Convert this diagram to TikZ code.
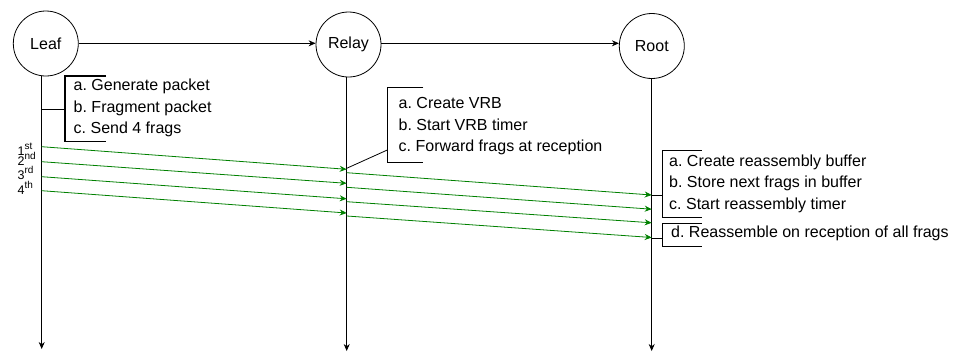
\documentclass[tikz,border=0pt]{standalone}
\usepackage{fontspec}
\setmainfont{Liberation Sans}
\usetikzlibrary{arrows.meta}
\definecolor{fraggreen}{HTML}{008000}
\newcommand{\ordsup}[1]{\raisebox{5.5pt}{\fontsize{10}{10}\selectfont #1}}
\begin{document}
\begin{tikzpicture}[x=1pt,y=-1pt,
  actor/.style={draw,circle,minimum size=65pt,inner sep=0pt,line width=0.8pt,font=\fontsize{16}{19}\selectfont},
  msg/.style={draw,line width=0.8pt,-{Stealth[length=7pt,width=6pt]}},
  life/.style={draw,line width=0.8pt,-{Stealth[length=7pt,width=6pt]}},
  frag/.style={draw=fraggreen,line width=0.8pt,-{Stealth[length=7pt,width=6pt]},fraggreen},
  bracket/.style={draw,line width=1.3pt},
  link/.style={draw,line width=0.8pt},
  notetext/.style={anchor=west,inner sep=0pt,align=left,font=\fontsize{16}{21.5}\selectfont\frenchspacing},
  ord/.style={anchor=base west,inner sep=0pt,font=\fontsize{12.5}{12}\selectfont}]
\useasboundingbox (0,0) rectangle (958,354);

% actors
\node[actor] (leaf)  at (45.8,43.5)  {Leaf};
\node[actor] (relay) at (348.5,44.5) {Relay};
\node[actor] (root)  at (651.8,46)   {Root};

\draw[msg] (leaf.east |- 0,43.3) -- (relay.west |- 0,43.3);
\draw[msg] (relay.east |- 0,43.3) -- (root.west |- 0,43.3);

% lifelines
\coordinate (leafTop)  at (41.7,75.5);
\coordinate (leafBot)  at (41.7,349);
\coordinate (relayTop) at (346.7,77);
\coordinate (relayBot) at (346.7,351);
\coordinate (rootTop)  at (651.7,78.5);
\coordinate (rootBot)  at (651.7,351);
\draw[life] (leafTop) -- (leafBot);
\draw[life] (relayTop) -- (relayBot);
\draw[life] (rootTop) -- (rootBot);

% leaf note
\draw[bracket] (106,76) -- (65,76) -- (65,141.7) -- (106,141.7);
\coordinate (leafN) at (41.7,109.3);
\coordinate (leafB) at (65,109.3);
\draw[link] (leafN) -- (leafB);
\node[notetext] (leaftxt) at (73.5,108) {a. Generate packet\\b. Fragment packet\\c. Send 4 frags};

% relay note
\draw[bracket] (423.3,87.3) -- (387.3,87.3) -- (387.3,162.7) -- (423.3,162.7);
\coordinate (relayN) at (346.7,168.3);
\coordinate (relayB) at (387.3,150);
\draw[link] (relayN) -- (relayB);
\node[notetext] (relaytxt) at (398.5,126.5) {a. Create VRB\\b. Start VRB timer\\c. Forward frags at reception};

% root notes
\draw[bracket] (701.7,150.7) -- (662.3,150.7) -- (662.3,217.7) -- (701.7,217.7);
\coordinate (rootN1) at (651.7,195.7);
\coordinate (rootB1) at (662.3,195.7);
\draw[link] (rootN1) -- (rootB1);
\node[notetext] (roottxt1) at (669,183.5) {a. Create reassembly buffer\\b. Store next frags in buffer\\c. Start reassembly timer};

\draw[bracket] (701.7,223.7) -- (662.3,223.7) -- (662.3,246.7) -- (701.7,246.7);
\coordinate (rootN2) at (651.7,238.7);
\coordinate (rootB2) at (662.3,238.7);
\draw[link] (rootN2) -- (rootB2);
\node[notetext] (roottxt2) at (671,233.5) {d. Reassemble on reception of all frags};

% fragment labels
\node[ord] (o1) at (17.5,155)   {1\ordsup{st}};
\node[ord] (o2) at (17.5,165)   {2\ordsup{nd}};
\node[ord] (o3) at (17.5,179.3) {3\ordsup{rd}};
\node[ord] (o4) at (17.5,194)   {4\ordsup{th}};

% fragments leaf -> relay
\coordinate (l1) at (41.7,146.7); \coordinate (r1) at (346.7,169.3);
\coordinate (l2) at (41.7,161.7); \coordinate (r2) at (346.7,183.3);
\coordinate (l3) at (41.7,176.7); \coordinate (r3) at (346.7,198.8);
\coordinate (l4) at (41.7,190.7); \coordinate (r4) at (346.7,213.0);
\draw[frag] (l1) -- (r1);
\draw[frag] (l2) -- (r2);
\draw[frag] (l3) -- (r3);
\draw[frag] (l4) -- (r4);

% fragments relay -> root
\coordinate (s1) at (346.7,172.7); \coordinate (t1) at (651.7,195);
\coordinate (s2) at (346.7,187.3); \coordinate (t2) at (651.7,209.2);
\coordinate (s3) at (346.7,201.7); \coordinate (t3) at (651.7,222.8);
\coordinate (s4) at (346.7,216);   \coordinate (t4) at (651.7,237.5);
\draw[frag] (s1) -- (t1);
\draw[frag] (s2) -- (t2);
\draw[frag] (s3) -- (t3);
\draw[frag] (s4) -- (t4);
\end{tikzpicture}
\end{document}
